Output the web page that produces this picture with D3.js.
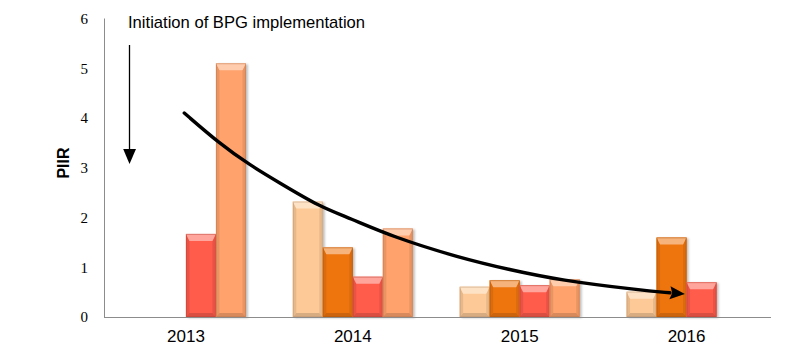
<!DOCTYPE html>
<html>
<head>
<meta charset="utf-8">
<script src="https://cdn.jsdelivr.net/npm/d3@7"></script>
<style>
  html, body { margin: 0; padding: 0; background: #fff; }
  svg { display: block; }
</style>
</head>
<body>
<div id="chart"></div>
<script>
// ---- data ----
const years = ["2013", "2014", "2015", "2016"];
const seriesNames = ["s1", "s2", "s3", "s4"];
const s1 = [null, 2.32, 0.61, 0.51];   // peach
const s2 = [null, 1.40, 0.74, 1.60];   // orange
const s3 = [1.67, 0.81, 0.64, 0.70];   // red
const s4 = [5.10, 1.78, 0.76, null];   // light orange
const seriesColors = ["#FDCA97", "#EE750F", "#FF5B4B", "#FFA26C"];
const yTicks = [0, 1, 2, 3, 4, 5, 6];
const yLabel = "PIIR";
const noteText = "Initiation of BPG implementation";
// trend annotation: x in category-index units (0 = 2013 centre), y in PIIR
const trendX = [-0.01, 0.20, 0.38, 0.56, 0.80, 0.98, 1.24, 1.64, 1.94, 2.24, 2.72, 2.99];
const trendY = [4.10, 3.49, 3.06, 2.70, 2.22, 1.99, 1.61, 1.19, 0.95, 0.74, 0.54, 0.46];

const W = 803, H = 363;
const svg = d3.select("#chart").append("svg").attr("width", W).attr("height", H);

const x = d3.scaleBand().domain(years).range([102.5, 770]).paddingInner(0).paddingOuter(0);
const groupW = 120;
const xs = d3.scaleBand().domain(seriesNames).range([0, groupW]);
const y = d3.scaleLinear().domain([0, 6]).range([317, 18.5]);
const xIdx = d3.scaleLinear().domain([0, 1]).range([x(years[0]) + x.bandwidth() / 2, x(years[1]) + x.bandwidth() / 2]);

const defs = svg.append("defs");
const f = defs.append("filter").attr("id", "shadow").attr("x", "-20%").attr("y", "-20%").attr("width", "150%").attr("height", "150%");
f.append("feDropShadow").attr("dx", 2).attr("dy", 1).attr("stdDeviation", 1.2).attr("flood-color", "#000").attr("flood-opacity", 0.25);

// bars
const series = [s1, s2, s3, s4];
const barsG = svg.append("g");
series.forEach((vals, si) => {
  vals.forEach((v, ci) => {
    if (v == null) return;
    const x0 = x(years[ci]) + (x.bandwidth() - groupW) / 2 + xs(seriesNames[si]);
    const w = xs.bandwidth();
    const y0 = y(v), y1 = y(0);
    const base = d3.color(seriesColors[si]);
    const g = barsG.append("g");
    const light = d3.interpolateRgb(base, "#fff")(0.45);
    const side = base.darker(0.25);
    const bottom = base.darker(0.45);
    const edge = base.darker(0.9);
    const bt = Math.min(7, (y1 - y0) / 2), bs = 3.5, bb = Math.min(4, (y1 - y0) / 3);
    g.append("rect").attr("x", x0).attr("y", y0).attr("width", w).attr("height", y1 - y0)
      .attr("fill", base).attr("filter", "url(#shadow)");
    g.append("path").attr("d", `M${x0},${y0}L${x0 + bs},${y0 + bt}L${x0 + bs},${y1 - bb}L${x0},${y1}Z`).attr("fill", side);
    g.append("path").attr("d", `M${x0 + w},${y0}L${x0 + w - bs},${y0 + bt}L${x0 + w - bs},${y1 - bb}L${x0 + w},${y1}Z`).attr("fill", side);
    g.append("path").attr("d", `M${x0},${y1}L${x0 + bs},${y1 - bb}L${x0 + w - bs},${y1 - bb}L${x0 + w},${y1}Z`).attr("fill", bottom);
    g.append("path").attr("d", `M${x0},${y0}L${x0 + w},${y0}L${x0 + w - bs},${y0 + bt}L${x0 + bs},${y0 + bt}Z`).attr("fill", light);
    g.append("rect").attr("x", x0 + 0.5).attr("y", y0 + 0.5).attr("width", w - 1).attr("height", y1 - y0 - 1)
      .attr("fill", "none").attr("stroke", edge).attr("stroke-opacity", 0.45).attr("stroke-width", 1);
  });
});

// axes lines
svg.append("line").attr("x1", 104.5).attr("x2", 104.5).attr("y1", y(6)).attr("y2", y(0) + 0.5)
  .attr("stroke", "#8c8c8c").attr("stroke-width", 1);
svg.append("line").attr("x1", 104).attr("x2", 771).attr("y1", y(0) + 0.5).attr("y2", y(0) + 0.5)
  .attr("stroke", "#8c8c8c").attr("stroke-width", 1.2);

// y tick labels
const yAxis = d3.axisLeft(y).tickValues(yTicks).tickSize(0).tickPadding(0).tickFormat(d3.format("d"));
const yg = svg.append("g").attr("transform", "translate(88,0)").call(yAxis);
yg.select(".domain").remove();
yg.selectAll("text").attr("font-family", "'Liberation Serif', 'DejaVu Serif', serif").attr("font-size", 15).attr("fill", "#000");

// x labels
const xAxis = d3.axisBottom(x).tickSize(0).tickPadding(0);
const xg = svg.append("g").attr("transform", "translate(0,330)").call(xAxis);
xg.select(".domain").remove();
xg.selectAll("text").attr("font-family", "'Liberation Sans', Arial, sans-serif").attr("font-size", 17).attr("fill", "#000");

// y label
svg.append("text").attr("transform", "translate(69,163) rotate(-90)").attr("text-anchor", "middle")
  .attr("font-family", "'Liberation Sans', Arial, sans-serif").attr("font-size", 16).attr("font-weight", "bold")
  .attr("fill", "#000").text(yLabel);

// note text and down arrow
svg.append("text").attr("x", 128).attr("y", 28).attr("font-family", "'Liberation Sans', Arial, sans-serif")
  .attr("font-size", 16.6).attr("fill", "#000").text(noteText);
svg.append("line").attr("x1", 129.5).attr("x2", 129.5).attr("y1", 45).attr("y2", 150).attr("stroke", "#000").attr("stroke-width", 1.3);
svg.append("path").attr("d", "M123.2,149L136,149L129.5,164Z").attr("fill", "#000");

// trend curve
const pts = trendX.map((t, i) => [xIdx(t), y(trendY[i])]);
const line = d3.line().curve(d3.curveBasis);
const last = pts[pts.length - 1];
const prev = pts[pts.length - 2];
const ang = Math.atan2(last[1] - prev[1], last[0] - prev[0]);
const headLen = 15, headW = 6.5;
const baseP = [last[0] - headLen * Math.cos(ang), last[1] - headLen * Math.sin(ang)];
const linePts = pts.slice(0, -1).concat([baseP]);
svg.append("path").attr("d", line(linePts)).attr("fill", "none").attr("stroke", "#000").attr("stroke-width", 3.4)
  .attr("stroke-linecap", "round");
const px = -Math.sin(ang), py = Math.cos(ang);
svg.append("path").attr("d", `M${last[0]},${last[1]}L${baseP[0] + px * headW},${baseP[1] + py * headW}L${baseP[0] + headLen * 0.15 * Math.cos(ang)},${baseP[1] + headLen * 0.15 * Math.sin(ang)}L${baseP[0] - px * headW},${baseP[1] - py * headW}Z`)
  .attr("fill", "#000");
</script>
</body>
</html>
